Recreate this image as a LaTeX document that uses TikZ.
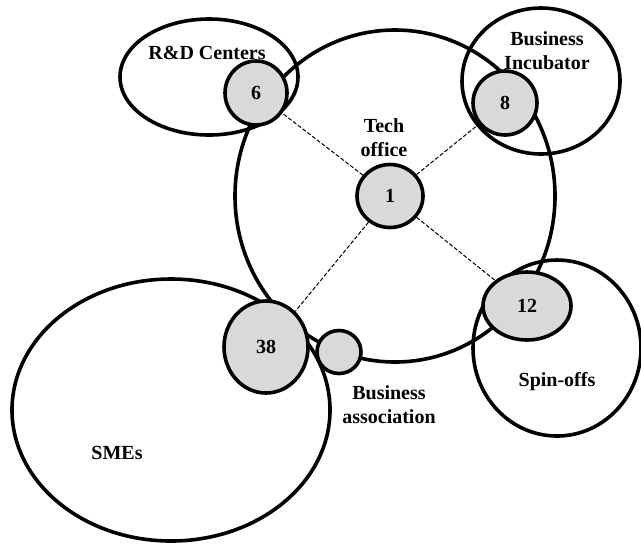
\documentclass[tikz,border=0pt]{standalone}
\usepackage{fontspec}
\setmainfont{Liberation Serif}
\usepackage{tikz}
\usetikzlibrary{shapes.geometric}

\definecolor{hubgray}{RGB}{217,217,217}

\begin{document}
\begin{tikzpicture}[x=0.5pt,y=-0.5pt,
    group/.style={line width=1.8pt},
    hub/.style={ellipse,draw,line width=1.8pt,fill=hubgray,inner sep=0pt,
      font=\bfseries},
    tag/.style={font=\bfseries,align=center},
    link/.style={dashed,line width=0.5pt,dash pattern=on 2pt off 1pt}]
  \useasboundingbox
    (0,0)
    rectangle
    (641,543);
  % the groups
  \draw[group]
    (395,196)
    ellipse
    [x radius=160,y radius=166];
  \draw[group]
    (209,77)
    ellipse
    [x radius=89,y radius=58];
  \draw[group]
    (541,81)
    ellipse
    [x radius=79,y radius=73];
  \draw[group]
    (557,348)
    ellipse
    [x radius=84,y radius=88];
  \draw[group]
    (171,410)
    ellipse
    [x radius=159,y radius=131];
  % the hubs
  \node[hub,minimum width=31pt,minimum height=32pt] (rd) at (256,93) {6};
  \node[hub,minimum width=32pt,minimum height=32pt] (inc) at (505,103) {8};
  \node[hub,minimum width=33pt,minimum height=31.5pt] (tech) at (390,196) {1};
  \node[hub,minimum width=44pt,minimum height=34pt] (spin) at (527,306) {12};
  \node[hub,minimum width=42pt,minimum height=46pt] (sme) at (266,347) {38};
  \node[hub,minimum width=22pt,minimum height=21.5pt] (assoc) at (339,352) {};
  \draw[link]
    (tech)
    --
    (rd);
  \draw[link]
    (tech)
    --
    (inc);
  \draw[link]
    (tech)
    --
    (spin);
  \draw[link]
    (tech)
    --
    (sme);
  % the labels
  \node[tag] (rdlabel) at (207,53) {R\&D Centers};
  \node[tag] (techlabel) at (384,138) {Tech\\office};
  \node[tag] (inclabel) at (547,51) {Business\\Incubator};
  \node[tag] (assoclabel) at (389,405) {Business\\association};
  \node[tag] (spinlabel) at (557,382) {Spin-offs};
  \node[tag] (smelabel) at (117,453) {SMEs};
\end{tikzpicture}
\end{document}
